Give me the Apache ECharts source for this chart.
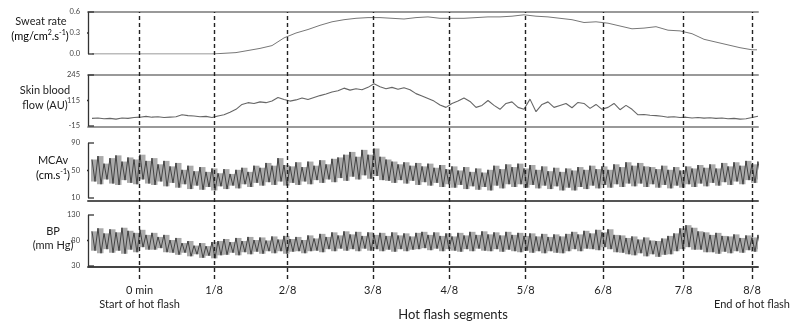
<!DOCTYPE html>
<html>
<head>
<meta charset="utf-8">
<script src="https://cdn.jsdelivr.net/npm/echarts@6/dist/echarts.min.js"></script>
<style>
  html, body { margin: 0; padding: 0; background: #fff; }
  #main { width: 793px; height: 327px; }
</style>
</head>
<body>
<div id="main"></div>
<script>
// time axis: 0 = start of hot flash, 617 = end (same units for all panels)
const T0 = -48;
const DT = 6; // spacing of the sampled traces below

const segBounds = [0, 75, 149, 235, 312, 389, 467, 548, 617];
const segLabels = ['0 min\nStart of hot flash', '1/8', '2/8', '3/8', '4/8', '5/8', '6/8', '7/8', '8/8\nEnd of hot flash'];

// sweat rate (mg/cm2.s-1), own sample times
const sweatT = [-48, -36, -24, -12, 0, 12, 24, 36, 48, 60, 72, 84, 96, 108, 120, 132, 144, 156, 168, 180,
  192, 204, 216, 228, 240, 252, 264, 276, 288, 300, 312, 324, 336, 348, 360, 372, 384, 396, 408, 420,
  432, 444, 456, 468, 480, 492, 504, 516, 528, 540, 552, 564, 576, 588, 600, 612, 617];
const sweatV = [0, 0, 0, 0, 0, 0, 0, 0, 0, 0, 0, 0.01, 0.02, 0.05, 0.08, 0.12, 0.23, 0.30, 0.35, 0.41,
  0.46, 0.49, 0.51, 0.52, 0.52, 0.51, 0.50, 0.52, 0.53, 0.51, 0.51, 0.51, 0.52, 0.53, 0.53, 0.54, 0.56, 0.54, 0.53, 0.51,
  0.49, 0.45, 0.46, 0.44, 0.40, 0.36, 0.37, 0.39, 0.34, 0.33, 0.29, 0.21, 0.17, 0.13, 0.09, 0.06, 0.06];

// skin blood flow (AU), every DT from T0
const sbf = [24, 26, 22, 24, 20, 26, 24, 28, 30, 34, 30, 32, 28, 30, 32, 42, 38, 36, 32, 34,
  28, 36, 42, 55, 70, 95, 104, 100, 108, 104, 112, 130, 120, 112, 118, 128, 120, 130, 140, 148,
  158, 165, 178, 168, 175, 170, 182, 200, 185, 175, 182, 172, 180, 170, 150, 138, 125, 112, 92, 80,
  100, 112, 128, 110, 80, 90, 115, 90, 70, 100, 108, 80, 70, 122, 58, 95, 108, 80, 90, 100,
  78, 105, 100, 75, 95, 70, 80, 100, 68, 90, 70, 42, 44, 40, 38, 35, 30, 32, 28, 30,
  26, 28, 25, 27, 24, 26, 22, 24, 20, 22, 28, 35];

// MCAv (cm.s-1): beat peaks and troughs, every DT from T0
const mcavHigh = [66, 71, 60, 68, 72, 63, 69, 66, 73, 64,
  68, 59, 64, 56, 61, 51, 57, 49, 55, 48,
  53, 46, 52, 45, 51, 54, 48, 57, 54, 61,
  57, 68, 58, 56, 62, 55, 63, 57, 65, 59,
  67, 69, 73, 77, 70, 80, 73, 82, 70, 66,
  63, 59, 62, 57, 61, 56, 60, 54, 58, 52,
  56, 50, 55, 48, 53, 47, 51, 57, 52, 59,
  55, 60, 53, 58, 51, 56, 49, 54, 48, 53,
  50, 55, 51, 57, 52, 56, 51, 59, 55, 62,
  57, 61, 56, 55, 52, 57, 51, 55, 50, 56,
  53, 58, 54, 59, 53, 61, 56, 62, 57, 64, 59, 63];
const mcavLow = [34, 30, 37, 31, 29, 36, 32, 30, 37, 31,
  29, 34, 27, 32, 25, 30, 23, 28, 22, 26,
  21, 27, 23, 28, 24, 30, 26, 32, 28, 33,
  29, 34, 28, 32, 29, 34, 30, 36, 32, 37,
  33, 39, 35, 41, 37, 43, 38, 42, 36, 35,
  32, 36, 31, 35, 29, 33, 28, 32, 26, 30,
  25, 29, 23, 27, 22, 26, 21, 28, 24, 30,
  26, 30, 25, 29, 24, 28, 23, 27, 21, 25,
  21, 26, 23, 28, 24, 29, 25, 30, 26, 31,
  27, 31, 26, 30, 25, 29, 24, 28, 25, 30,
  26, 31, 27, 32, 28, 33, 29, 34, 30, 36, 32, 37];

// BP (mm Hg): systolic / diastolic, every DT from T0
const bpHigh = [98, 104, 94, 102, 96, 105, 99, 95, 101, 91,
  95, 87, 91, 81, 85, 75, 79, 70, 75, 69,
  77, 79, 83, 77, 85, 79, 87, 81, 86, 80,
  88, 82, 89, 83, 87, 81, 90, 84, 93, 87,
  96, 90, 98, 92, 97, 89, 96, 91, 95, 89,
  96, 90, 94, 88, 95, 97, 91, 96, 89, 94,
  88, 95, 90, 97, 91, 98, 92, 96, 90, 97,
  91, 95, 89, 94, 88, 93, 87, 92, 88, 93,
  97, 92, 99, 94, 101, 96, 102, 91, 90, 85,
  88, 82, 86, 80, 79, 84, 89, 94, 104, 110,
  105, 98, 96, 91, 95, 89, 88, 92, 85, 90, 86, 91];
const bpLow = [60, 55, 63, 56, 60, 54, 62, 57, 67, 62,
  62, 65, 57, 56, 52, 56, 49, 53, 46, 50,
  45, 51, 52, 56, 51, 57, 53, 58, 54, 59,
  55, 59, 54, 58, 59, 55, 59, 60, 57, 63,
  59, 64, 60, 63, 59, 64, 60, 63, 59, 62,
  58, 63, 59, 62, 63, 65, 61, 64, 59, 63,
  60, 58, 63, 59, 64, 60, 59, 63, 58, 62,
  59, 57, 60, 56, 59, 55, 59, 56, 55, 59,
  63, 59, 64, 63, 61, 67, 63, 57, 56, 53,
  51, 55, 49, 53, 48, 52, 53, 59, 63, 67,
  62, 62, 57, 57, 54, 58, 55, 59, 56, 61, 58, 63];

const FONT = 'Lato';
const X_MIN = -52, X_MAX = 618; // bracket sits at X_MIN, traces start at T0

const sampled = arr => arr.map((v, i) => [T0 + i * DT, v]);
// peak then trough, half a step apart
const beats = (hi, lo) => {
  const out = [];
  hi.forEach((h, i) => {
    const t = T0 + i * DT;
    out.push([t, h], [t + DT / 2, lo[i]]);
  });
  return out;
};

const panels = [
  { top: 12, height: 42, min: 0, max: 0.6, ticks: [0, 0.3, 0.6], fmt: v => v.toFixed(1) },
  { top: 75, height: 51, min: -15, max: 245, ticks: [-15, 115, 245], fmt: v => String(v) },
  { top: 143, height: 55, min: 10, max: 90, ticks: [10, 50, 90], fmt: v => String(v) },
  { top: 215, height: 51, min: 30, max: 130, ticks: [30, 80, 130], fmt: v => String(v) }
];

const grids = [
  ...panels.map(p => ({ left: 88, right: 35, top: p.top, height: p.height })),
  { left: 88, right: 35, top: 12, height: 267 } // dashed segment marks
];

function frameX(gridIndex, position, color, offset) {
  return {
    gridIndex, type: 'value', min: X_MIN, max: X_MAX, position, offset: offset || 0,
    axisLine: { show: true, onZero: false, lineStyle: { color, width: 2 } },
    axisTick: { show: false }, axisLabel: { show: false }, splitLine: { show: false }
  };
}

const labelY = (p, gridIndex) => ({
  gridIndex, type: 'value', min: p.min, max: p.max, position: 'left',
  axisLine: { show: false }, axisTick: { show: false }, splitLine: { show: false },
  axisLabel: { customValues: p.ticks, formatter: p.fmt, fontSize: 7.5, color: '#444', margin: 8, fontFamily: FONT }
});

// "[" bracket: vertical via markLine, ticks as short segments (one x unit is about one pixel)
const BRK = { color: '#333', width: 1.3, type: 'solid' };
const tick = (xi, yi, data) => ({
  type: 'line', xAxisIndex: xi, yAxisIndex: yi, silent: true, clip: false, symbol: 'none', z: 5,
  data, lineStyle: BRK
});
const bracket = (xi, yi, p) => [
  Object.assign(tick(xi, yi, [[X_MIN + 6, p.max], [X_MIN, p.max]]), {
    markLine: {
      silent: true, symbol: 'none', animation: false, label: { show: false },
      lineStyle: BRK, data: [{ xAxis: X_MIN }]
    }
  }),
  tick(xi, yi, [[X_MIN, p.min], [X_MIN + 6, p.min]]),
  tick(xi, yi, [[X_MIN - 5, p.ticks[1]], [X_MIN, p.ticks[1]]])
];

// grey envelope behind the beat-to-beat trace
const band = (xi, yi, lo, hi) => ({
  type: 'custom', xAxisIndex: xi, yAxisIndex: yi, silent: true, clip: true,
  data: hi.map((h, i) => [T0 + i * DT, lo[i], h]),
  encode: { x: 0, y: [1, 2] },
  renderItem: (params, api) => {
    const t = api.value(0);
    const a = api.coord([t - 1, api.value(2)]);
    const b = api.coord([t + DT - 1, api.value(1)]);
    return { type: 'rect', shape: { x: a[0], y: a[1], width: b[0] - a[0] + 0.5, height: b[1] - a[1] }, style: { fill: '#ababab' } };
  }
});

const trace = (xi, yi, data, color, width) => ({
  type: 'line', xAxisIndex: xi, yAxisIndex: yi, data, symbol: 'none', silent: true,
  lineStyle: { color, width }, animation: false
});

const label = (x, y, text, rich) => ({
  type: 'text', x, y, silent: true,
  style: rich
    ? { text, rich, align: 'center', verticalAlign: 'middle' }
    : { text, fontSize: 11, fontFamily: FONT, fill: '#222', align: 'center', verticalAlign: 'middle' }
});
const supRich = {
  n: { fontSize: 11, fontFamily: FONT, color: '#222', lineHeight: 13 },
  s: { fontSize: 7, fontFamily: FONT, color: '#222', lineHeight: 7, verticalAlign: 'top' }
};

const chart = echarts.init(document.getElementById('main'));
chart.setOption({
  backgroundColor: '#fff',
  animation: false,
  grid: grids,
  xAxis: [
    frameX(0, 'top', '#999'),
    frameX(1, 'top', '#999'),
    frameX(1, 'bottom', '#999', 1),
    frameX(2, 'bottom', '#555', 3),
    frameX(3, 'bottom', '#444', 1),
    {
      gridIndex: 4, type: 'value', min: X_MIN, max: X_MAX, position: 'bottom',
      axisLine: { show: false, onZero: false }, axisTick: { show: false }, splitLine: { show: false },
      axisLabel: {
        customValues: segBounds,
        formatter: v => segLabels[segBounds.indexOf(v)],
        fontSize: 11, lineHeight: 14, color: '#222', margin: 4, fontFamily: FONT
      }
    }
  ],
  yAxis: [
    ...panels.map((p, i) => labelY(p, i)),
    { gridIndex: 4, type: 'value', min: 0, max: 1, show: false }
  ],
  series: [
    ...bracket(0, 0, panels[0]),
    ...bracket(2, 1, panels[1]),
    ...bracket(3, 2, panels[2]),
    ...bracket(4, 3, panels[3]),
    trace(0, 0, sweatT.map((t, i) => [t, sweatV[i]]), '#777', 1),
    trace(2, 1, sampled(sbf), '#666', 1.1),
    band(3, 2, mcavLow, mcavHigh),
    trace(3, 2, beats(mcavHigh, mcavLow), '#2a2a2a', 0.8),
    band(4, 3, bpLow, bpHigh),
    trace(4, 3, beats(bpHigh, bpLow), '#2a2a2a', 0.8),
    {
      type: 'line', xAxisIndex: 5, yAxisIndex: 4, data: [[X_MIN, 0]], symbol: 'none',
      lineStyle: { opacity: 0 }, silent: true,
      markLine: {
        silent: true, symbol: 'none', animation: false,
        label: { show: false },
        lineStyle: { color: '#222', width: 1.4, type: [4, 3] },
        data: segBounds.map(b => ({ xAxis: b }))
      }
    }
  ],
  graphic: [
    label(41, 21, 'Sweat rate'),
    label(40, 36, '{n|(mg/cm}{s|2}{n|.s}{s|-1}{n|)}', supRich),
    label(45, 90, 'Skin blood'),
    label(45, 105, 'flow (AU)'),
    label(53, 160, 'MCAv'),
    label(53, 175, '{n|(cm.s}{s|-1}{n|)}', supRich),
    label(53, 231, 'BP'),
    label(53, 245, '(mm Hg)'),
    {
      type: 'text', x: 453, y: 315, silent: true,
      style: { text: 'Hot flash segments', fontSize: 13, fontFamily: FONT, fill: '#222', align: 'center', verticalAlign: 'middle' }
    }
  ]
});
</script>
</body>
</html>
